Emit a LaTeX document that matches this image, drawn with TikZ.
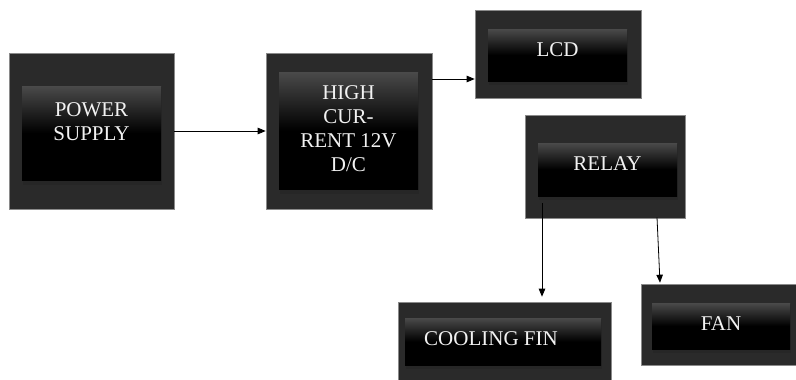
\documentclass[tikz,border=0pt]{standalone}
\usepackage{fontspec}
\setmainfont{Liberation Serif}
\usetikzlibrary{arrows.meta, positioning, calc}
\definecolor{boxgray}{HTML}{2A2A2A}
\definecolor{edgegray}{HTML}{8A8A8A}
\definecolor{topgray}{HTML}{4A4A4A}
\definecolor{txtgray}{HTML}{F2F2F2}
\tikzset{
  outerbox/.style={fill=boxgray, draw=edgegray, line width=0.6pt, inner sep=0pt},
  innerbox/.style={inner sep=0pt, top color=topgray, bottom color=black, middle color=black},
  shadowbox/.style={fill=black!85, inner sep=0pt},
  lbl/.style={text=txtgray, font=\fontsize{21}{24}\selectfont, align=center, inner sep=0pt},
  arrow/.style={-{Triangle[length=8pt,width=6.5pt]}, line width=0.8pt, black}
}
\begin{document}
\begin{tikzpicture}[x=1pt,y=-1pt]
  \useasboundingbox (0,0) rectangle (796,380);
  % power supply
  \node[outerbox, minimum width=165pt, minimum height=156pt] (ps) at (91.5,131) {};
  \node[shadowbox, minimum width=139pt, minimum height=98pt] at (92.5,136) {};
  \node[innerbox, minimum width=139pt, minimum height=94pt] (psin) at (91.5,133) {};
  \node[lbl] (pstxt) at (91.5,121.5) {POWER\\SUPPLY};
  % high current
  \node[outerbox, minimum width=166pt, minimum height=156pt] (hc) at (349,131) {};
  \node[shadowbox, minimum width=139pt, minimum height=121pt] at (349.5,133.5) {};
  \node[innerbox, minimum width=139pt, minimum height=117pt] (hcin) at (348.5,130.5) {};
  \node[lbl] (hctxt) at (348.5,129) {HIGH\\CUR-\\RENT 12V\\D/C};
  % lcd
  \node[outerbox, minimum width=166pt, minimum height=88pt] (lcd) at (558,54) {};
  \node[shadowbox, minimum width=139pt, minimum height=55pt] at (558.5,57) {};
  \node[innerbox, minimum width=139pt, minimum height=52pt] (lcdin) at (557.5,55) {};
  \node[lbl] (lcdtxt) at (557.5,50) {LCD};
  % relay
  \node[outerbox, minimum width=160pt, minimum height=103pt] (relay) at (605,166.5) {};
  \node[shadowbox, minimum width=139pt, minimum height=56pt] at (608.5,172) {};
  \node[innerbox, minimum width=139pt, minimum height=53pt] (relayin) at (607.5,169.5) {};
  \node[lbl] (relaytxt) at (607.5,164) {RELAY};
  % cooling fin
  \node[outerbox, minimum width=213pt, minimum height=78pt] (cf) at (504.5,341) {};
  \node[shadowbox, minimum width=196pt, minimum height=50pt] at (504,344) {};
  \node[innerbox, minimum width=196pt, minimum height=47pt] (cfin) at (503,341.5) {};
  \node[lbl, anchor=west] (cftxt) at (424,339) {COOLING FIN};
  % fan
  \node[outerbox, minimum width=155pt, minimum height=81pt] (fan) at (718.5,324.5) {};
  \node[shadowbox, minimum width=138pt, minimum height=49pt] at (722,328.5) {};
  \node[innerbox, minimum width=138pt, minimum height=46pt] (fanin) at (721,326) {};
  \node[lbl] (fantxt) at (721,324) {FAN};
  % connections
  \draw[arrow] (ps.east) -- (hc.west);
  \coordinate (hcout) at ([yshift=52pt]hc.east);
  \draw[arrow] (hcout) -- (hcout -| lcd.west);
  \draw[arrow] ([xshift=-63pt,yshift=15pt]relay.south) -- ([xshift=37.5pt,yshift=5pt]cf.north);
  \draw[arrow] ([xshift=52pt,yshift=1pt]relay.south) -- ([xshift=-58.5pt,yshift=1pt]fan.north);
\end{tikzpicture}
\end{document}
